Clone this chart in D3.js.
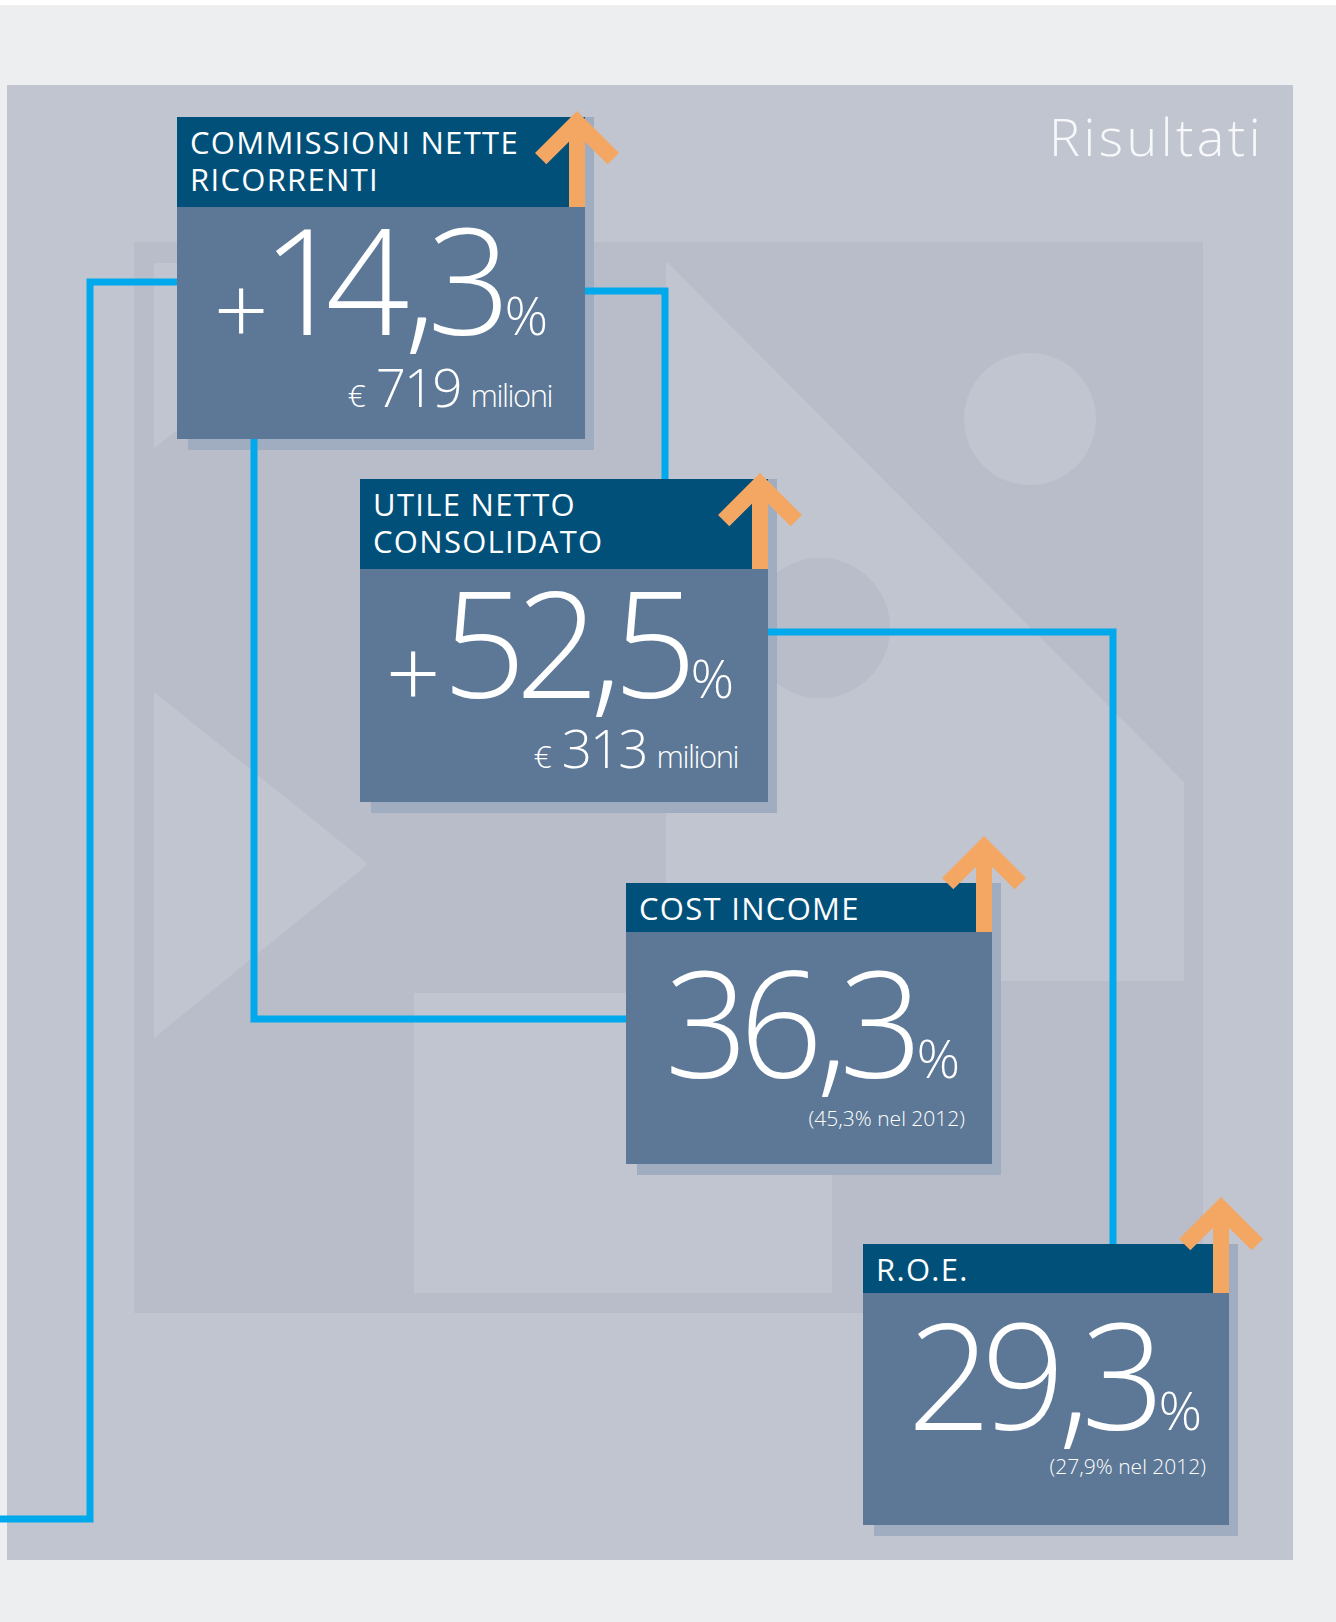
<!DOCTYPE html>
<html>
<head>
<meta charset="utf-8">
<script src="https://cdn.jsdelivr.net/npm/d3@7/dist/d3.min.js"></script>
<style>
  html, body { margin: 0; padding: 0; background: #EDEEF0; }
  svg { display: block; }
  text { font-family: "Open Sans", "Noto Sans", sans-serif; fill: #fff; }
</style>
</head>
<body>
<svg id="chart"></svg>
<script>
// --- data ---
var titles = [["COMMISSIONI NETTE", "RICORRENTI"], ["UTILE NETTO", "CONSOLIDATO"], ["COST INCOME"], ["R.O.E."]];
var values = [14.3, 52.5, 36.3, 29.3];
var isChange = [true, true, false, false];
var amounts = [719, 313, null, null];          // milioni di euro
var previous = [null, null, 45.3, 27.9];        // valore nel 2012
var prevYear = 2012;
var heading = "Risultati";

// --- layout (positions, not data) ---
var screen = {width: 1336, height: 1622};
var boxes = [
    {x: 177, y: 117, w: 408, hh: 90, h: 322, nb: 218, nr: 37, sb: 290, sr: 33},
    {x: 360, y: 479, w: 408, hh: 90, h: 323, nb: 219, nr: 34, sb: 289, sr: 30},
    {x: 626, y: 883, w: 366, hh: 49, h: 281, nb: 195, nr: 32, sb: 243, sr: 27},
    {x: 863, y: 1244, w: 366, hh: 49, h: 281, nb: 186, nr: 27, sb: 230, sr: 23}
];
var col = {
    page: "#EDEEF0", panel: "#C1C5D0", frame: "#B9BDC9", header: "#00507A",
    body: "#5C7896", shadow: "#A0ADC0", arrow: "#F4A663", link: "#00A9EB"
};

var it = d3.formatLocale({decimal: ",", thousands: ".", grouping: [3], currency: ["€", ""]});
var fmt1 = it.format(".1f");

var svg = d3.select("#chart")
    .attr("width", screen.width)
    .attr("height", screen.height);

svg.append("rect").attr("width", screen.width).attr("height", 5).attr("fill", "#fff");
svg.append("rect").attr("x", 7).attr("y", 85).attr("width", 1286).attr("height", 1475).attr("fill", col.panel);

// background decoration
var deco = svg.append("g").attr("id", "deco");
deco.append("rect").attr("x", 134).attr("y", 242).attr("width", 1069).attr("height", 1071).attr("fill", col.frame);
var light = [
    [[154, 263], [391, 263], [154, 448]],
    [[666, 263], [668, 263], [1184, 782], [1184, 981], [666, 981]],
    [[154, 692], [368, 864], [154, 1038]],
    [[414, 993], [832, 993], [832, 1293], [414, 1293]]
];
deco.selectAll("polygon").data(light).join("polygon")
    .attr("points", function(d) { return d.join(" "); })
    .attr("fill", col.panel);
deco.append("circle").attr("cx", 1030).attr("cy", 419).attr("r", 66).attr("fill", col.panel);
deco.append("circle").attr("cx", 820).attr("cy", 628).attr("r", 70).attr("fill", col.frame);

svg.append("text")
    .attr("x", 1264).attr("y", 156)
    .attr("text-anchor", "end")
    .style("font-size", "52px").style("font-weight", 300).style("letter-spacing", "3.5px")
    .style("fill", "#F7F8FA")
    .text(heading);

// shadows
svg.append("g").selectAll("rect").data(boxes).join("rect")
    .attr("x", function(d) { return d.x + 11; })
    .attr("y", function(d) { return d.y; })
    .attr("width", function(d) { return d.w - 2; })
    .attr("height", function(d) { return d.h + 11; })
    .attr("fill", col.shadow);

// connector lines
var b = boxes;
var links = [
    [[0, 1519], [90, 1519], [90, b[0].y + 165], [b[0].x, b[0].y + 165]],
    [[b[0].x + b[0].w, b[0].y + 174], [665, b[0].y + 174], [665, b[1].y]],
    [[254, b[0].y + b[0].h], [254, 1019], [b[2].x, 1019]],
    [[b[1].x + b[1].w, 632], [1113, 632], [1113, b[3].y]]
];
svg.append("g").selectAll("path").data(links).join("path")
    .attr("d", d3.line())
    .attr("fill", "none")
    .attr("stroke", col.link)
    .attr("stroke-width", 7);

// boxes
var g = svg.append("g").selectAll("g").data(boxes).join("g")
    .attr("transform", function(d) { return "translate(" + d.x + "," + d.y + ")"; });

g.append("rect").attr("width", function(d) { return d.w; }).attr("height", function(d) { return d.h; }).attr("fill", col.body);
g.append("rect").attr("width", function(d) { return d.w; }).attr("height", function(d) { return d.hh; }).attr("fill", col.header);

g.each(function(d, i) {
    var box = d3.select(this);
    titles[i].forEach(function(line, k) {
        box.append("text")
            .attr("x", 13).attr("y", 37 + k * 37)
            .style("font-size", "31px").style("letter-spacing", "1.3px")
            .text(line);
    });

    var num = box.append("text")
        .attr("x", d.w - d.nr).attr("y", d.nb)
        .attr("text-anchor", "end")
        .style("font-weight", 350);
    if (isChange[i]) {
        num.append("tspan")
            .attr("dy", 10)
            .style("font-size", "96px")
            .text("+");
    }
    num.append("tspan")
        .attr("dy", isChange[i] ? -10 : 0)
        .attr("dx", isChange[i] ? 4 : 0)
        .style("font-size", "147px").style("letter-spacing", "-6.5px")
        .style("font-variant-numeric", "proportional-nums")
        .text(fmt1(values[i]));
    num.append("tspan")
        .attr("dx", 2)
        .style("font-size", "54px").style("font-weight", 300)
        .text("%");

    var sub = box.append("text")
        .attr("x", d.w - d.sr).attr("y", d.sb)
        .attr("text-anchor", "end")
        .style("font-weight", 300);
    if (amounts[i] != null) {
        sub.append("tspan").style("font-size", "32px").text("€");
        sub.append("tspan").attr("dx", 10).style("font-size", "53px").style("letter-spacing", "-2px").text(amounts[i]);
        sub.append("tspan").attr("dx", 10).style("font-size", "31px").style("letter-spacing", "-1.5px").text("milioni");
    } else {
        sub.style("font-size", "21px")
            .text("(" + fmt1(previous[i]) + "% nel " + prevYear + ")");
    }

    // up arrow at the right edge of the header
    var t = 16, a = 42, cx = d.w - t / 2, bottom = d.hh, ty = bottom - 96;
    var s = t / Math.SQRT2, yi = ty + t / 2 + t * Math.SQRT2;
    var pts = [[cx, ty], [cx + a, ty + a], [cx + a - s, ty + a + s], [cx + t / 2, yi], [cx + t / 2, bottom],
               [cx - t / 2, bottom], [cx - t / 2, yi], [cx - a + s, ty + a + s], [cx - a, ty + a]];
    box.append("polygon").attr("points", pts.join(" ")).attr("fill", col.arrow);
});
</script>
</body>
</html>
